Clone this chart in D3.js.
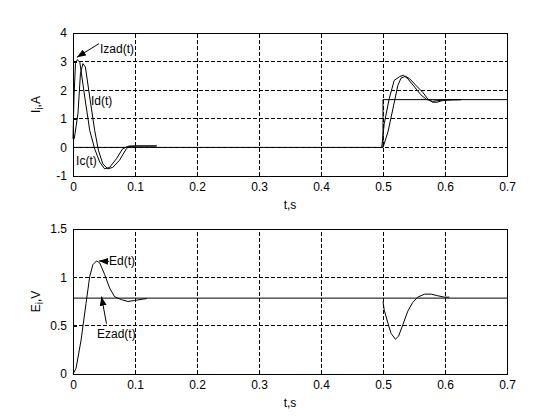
<!DOCTYPE html>
<html>
<head>
<meta charset="utf-8">
<script src="https://cdn.jsdelivr.net/npm/d3@7"></script>
<style>
  body { margin: 0; background: #fff; }
  text { font-family: Arial, "Liberation Sans", sans-serif; font-size: 12px; fill: #000; }
</style>
</head>
<body>
<svg id="fig" width="560" height="420"></svg>
<script>
// tick labels
var xTicks = [0, 0.1, 0.2, 0.3, 0.4, 0.5, 0.6, 0.7];
var iTicks = [-1, 0, 1, 2, 3, 4];
var eTicks = [0, 0.5, 1, 1.5];

// current reference (step)
var izadT = [0, 0.5, 0.5, 0.7];
var izadV = [0, 0, 1.67, 1.67];

// leading current curve (null = gap between the two transients)
var iLeadT = [0, 0.0016, 0.004, 0.007, 0.011, 0.019, 0.027, 0.035, 0.043, 0.051, 0.059, 0.070, 0.080, 0.0886, 0.10, 0.135,
              null,
              0.498, 0.502, 0.510, 0.518, 0.527, 0.533, 0.540, 0.551, 0.561, 0.570, 0.580, 0.594, 0.610, 0.626];
var iLeadV = [0.30, 1.76, 2.93, 3.07, 2.98, 1.76, 0.59, -0.05, -0.51, -0.75, -0.70, -0.40, -0.05, 0.04, 0.05, 0.05,
              null,
              0.01, 0.83, 1.70, 2.34, 2.48, 2.52, 2.40, 2.11, 1.84, 1.68, 1.61, 1.65, 1.67, 1.67];

// lagging current curve
var iLagT = [0.002, 0.008, 0.012, 0.016, 0.020, 0.027, 0.035, 0.041, 0.048, 0.056, 0.064, 0.075, 0.086, 0.091, 0.11, 0.135,
             null,
             0.5, 0.508, 0.516, 0.524, 0.529, 0.536, 0.543, 0.553, 0.564, 0.572, 0.580, 0.587, 0.598, 0.626];
var iLagV = [0.30, 1.18, 2.58, 2.93, 2.81, 1.76, 0.59, -0.10, -0.57, -0.75, -0.70, -0.45, -0.05, 0.04, 0.05, 0.05,
             null,
             0, 0.54, 1.35, 2.17, 2.42, 2.49, 2.40, 2.17, 1.93, 1.70, 1.58, 1.58, 1.65, 1.67];

// voltage reference and response
var ezadT = [0, 0.7];
var ezadV = [0.785, 0.785];

var edT = [0, 0.005, 0.013, 0.021, 0.027, 0.032, 0.038, 0.043, 0.051, 0.059, 0.067, 0.078, 0.0886, 0.099, 0.113, 0.119,
           null,
           0.5, 0.502, 0.508, 0.513, 0.520, 0.525, 0.532, 0.540, 0.548, 0.556, 0.567, 0.578, 0.588, 0.599, 0.607];
var edV = [0, 0.06, 0.35, 0.73, 1.01, 1.13, 1.17, 1.15, 1.03, 0.89, 0.80, 0.77, 0.75, 0.76, 0.775, 0.78,
           null,
           0.75, 0.66, 0.525, 0.42, 0.36, 0.39, 0.51, 0.65, 0.74, 0.795, 0.826, 0.826, 0.81, 0.795, 0.795];

var svg = d3.select("#fig");

svg.append("defs").append("marker")
    .attr("id", "head")
    .attr("markerUnits", "userSpaceOnUse")
    .attr("markerWidth", 9).attr("markerHeight", 7)
    .attr("refX", 9).attr("refY", 3.5)
    .attr("orient", "auto")
  .append("path")
    .attr("d", "M0,0L9,3.5L0,7Z")
    .attr("fill", "#000");

var x = d3.scaleLinear().domain([0, 0.7]).range([73, 507]);

function zip(ts, vs) {
  return ts.map(function(t, i) { return t == null ? null : [t, vs[i]]; });
}

function panel(y, yTicks, sym) {
  var g = svg.append("g");
  var y0 = y.range()[0], y1 = y.range()[1];

  // grid
  g.selectAll(".gx").data(xTicks.slice(1, -1)).enter().append("line")
    .attr("x1", x).attr("x2", x).attr("y1", y0).attr("y2", y1)
    .attr("stroke", "#000").attr("stroke-dasharray", "4,2")
    .attr("shape-rendering", "crispEdges");
  g.selectAll(".gy").data(yTicks.slice(1, -1)).enter().append("line")
    .attr("x1", 73).attr("x2", 507).attr("y1", y).attr("y2", y)
    .attr("stroke", "#000").attr("stroke-dasharray", "4,2")
    .attr("shape-rendering", "crispEdges");

  // axes
  var ax = g.append("g").attr("transform", "translate(0," + y0 + ")")
    .call(d3.axisBottom(x).tickValues(xTicks).tickSize(-4).tickPadding(6)
      .tickFormat(function(d) { return String(d); }));
  var ay = g.append("g").attr("transform", "translate(73,0)")
    .call(d3.axisLeft(y).tickValues(yTicks).tickSize(-4).tickPadding(6)
      .tickFormat(function(d) { return String(d); }));
  [ax, ay].forEach(function(a) {
    a.select(".domain").remove();
    a.selectAll("text").attr("font-size", 12).attr("font-family", null);
    a.selectAll("line").attr("shape-rendering", "crispEdges");
  });

  g.append("rect")
    .attr("x", 73).attr("y", y1).attr("width", 434).attr("height", y0 - y1)
    .attr("fill", "none").attr("stroke", "#000")
    .attr("shape-rendering", "crispEdges");

  g.append("text").attr("x", 290).attr("y", y0 + 33)
    .attr("text-anchor", "middle").text("t,s");

  var lab = g.append("text")
    .attr("transform", "translate(40," + ((y0 + y1) / 2) + ") rotate(-90)")
    .attr("text-anchor", "middle");
  lab.append("tspan").text(sym[0]);
  lab.append("tspan").attr("dy", 3).attr("font-size", 10).text("i");
  lab.append("tspan").attr("dy", -3).text("," + sym[1]);
  return g;
}

function curve(g, y, ts, vs) {
  var line = d3.line()
    .defined(function(d) { return d != null; })
    .x(function(d) { return x(d[0]); })
    .y(function(d) { return y(d[1]); });
  g.append("path").datum(zip(ts, vs))
    .attr("d", line)
    .attr("fill", "none").attr("stroke", "#000").attr("stroke-width", 1);
}

function note(g, y, label, lt, lv, arrow) {
  g.append("text").attr("x", x(lt)).attr("y", y(lv)).text(label);
  if (arrow) {
    g.append("line")
      .attr("x1", x(arrow[0])).attr("y1", y(arrow[1]))
      .attr("x2", x(arrow[2])).attr("y2", y(arrow[3]))
      .attr("stroke", "#000").attr("marker-end", "url(#head)");
  }
}

// top: currents
var yI = d3.scaleLinear().domain([-1, 4]).range([176, 33]);
var gI = panel(yI, iTicks, ["I", "A"]);
curve(gI, yI, izadT, izadV);
curve(gI, yI, iLeadT, iLeadV);
curve(gI, yI, iLagT, iLagV);
note(gI, yI, "Izad(t)", 0.0435, 3.3, [0.042, 3.63, 0.0064, 3.15]);
note(gI, yI, "Id(t)", 0.029, 1.48);
note(gI, yI, "Ic(t)", 0.005, -0.61);

// bottom: voltages
var yE = d3.scaleLinear().domain([0, 1.5]).range([374, 229]);
var gE = panel(yE, eTicks, ["E", "V"]);
curve(gE, yE, ezadT, ezadV);
curve(gE, yE, edT, edV);
note(gE, yE, "Ed(t)", 0.058, 1.13, [0.058, 1.165, 0.042, 1.17]);
note(gE, yE, "Ezad(t)", 0.0387, 0.373, [0.054, 0.52, 0.046, 0.80]);
</script>
</body>
</html>
